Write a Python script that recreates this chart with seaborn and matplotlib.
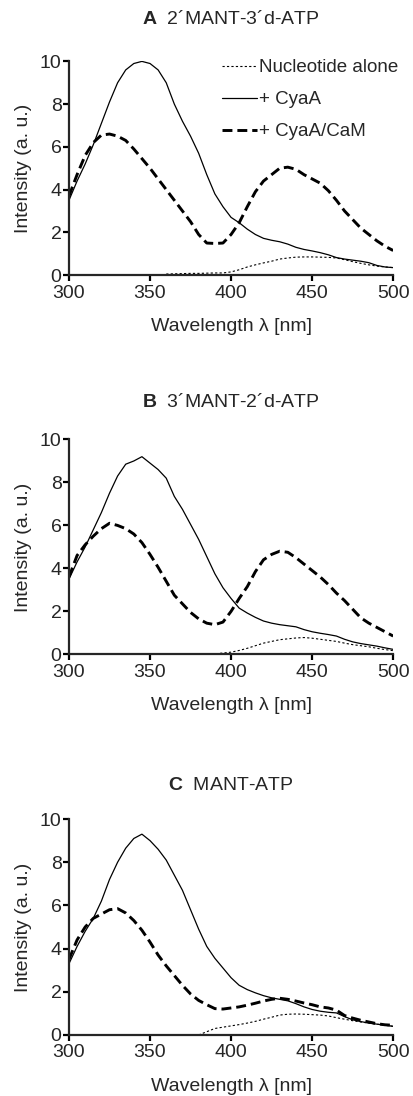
import numpy as np
import pandas as pd
import matplotlib
matplotlib.use('Agg')
import matplotlib.pyplot as plt
import seaborn as sns

# wavelength grid (nm), 5 nm steps
wavelength = np.arange(300, 501, 5)

# panel A: 2'MANT-3'd-ATP
solid_a = [3.5, 4.4, 5.2, 6.1, 7.1, 8.1, 9.0, 9.6, 9.9, 10.0, 9.9, 9.6, 9.0, 8.0, 7.2, 6.5, 5.7, 4.7, 3.8, 3.2,
           2.7, 2.45, 2.15, 1.9, 1.72, 1.63, 1.56, 1.45, 1.3, 1.2, 1.13, 1.05, 0.95, 0.82, 0.75, 0.7, 0.65, 0.58,
           0.45, 0.38, 0.35]
dash_a = [3.7, 4.7, 5.6, 6.2, 6.55, 6.6, 6.5, 6.3, 5.9, 5.45, 5.0, 4.5, 4.0, 3.5, 3.0, 2.5, 1.9, 1.5, 1.48, 1.5,
          1.9, 2.45, 3.2, 3.9, 4.4, 4.7, 5.0, 5.05, 4.95, 4.7, 4.5, 4.3, 3.95, 3.5, 3.0, 2.6, 2.2, 1.9, 1.6, 1.35,
          1.15]
dot_a = [np.nan] * 12 + [0.05, 0.06, 0.07, 0.08, 0.08, 0.09, 0.1, 0.1, 0.15, 0.25, 0.38, 0.48, 0.57, 0.65, 0.75,
                         0.8, 0.84, 0.85, 0.85, 0.84, 0.83, 0.8, 0.72, 0.63, 0.55, 0.48, 0.42, 0.38, 0.35]

# panel B: 3'MANT-2'd-ATP
solid_b = [3.5, 4.3, 5.0, 5.8, 6.6, 7.5, 8.3, 8.85, 9.0, 9.2, 8.9, 8.6, 8.2, 7.35, 6.75, 6.05, 5.35, 4.55, 3.75,
           3.1, 2.6, 2.15, 1.92, 1.72, 1.55, 1.45, 1.38, 1.33, 1.28, 1.15, 1.05, 0.98, 0.92, 0.85, 0.7, 0.58, 0.5,
           0.44, 0.38, 0.3, 0.23]
dash_b = [3.6, 4.6, 5.1, 5.5, 5.85, 6.1, 6.0, 5.85, 5.6, 5.2, 4.65, 4.05, 3.4, 2.75, 2.35, 1.95, 1.65, 1.45, 1.38,
          1.5, 2.0, 2.6, 3.15, 3.85, 4.4, 4.65, 4.8, 4.75, 4.5, 4.2, 3.9, 3.6, 3.25, 2.85, 2.5, 2.1, 1.7, 1.45,
          1.25, 1.05, 0.85]
dot_b = [np.nan] * 17 + [0.0, 0.02, 0.06, 0.1, 0.18, 0.28, 0.4, 0.52, 0.6, 0.68, 0.72, 0.76, 0.78, 0.75, 0.7,
                         0.65, 0.6, 0.52, 0.45, 0.4, 0.35, 0.28, 0.22, 0.17]

# panel C: MANT-ATP
solid_c = [3.3, 4.1, 4.8, 5.4, 6.2, 7.2, 8.0, 8.65, 9.1, 9.3, 9.0, 8.6, 8.1, 7.4, 6.7, 5.8, 4.9, 4.1, 3.55, 3.1,
           2.65, 2.3, 2.1, 1.95, 1.82, 1.72, 1.65, 1.58, 1.45, 1.3, 1.18, 1.1, 1.05, 1.02, 0.85, 0.7, 0.62, 0.55,
           0.5, 0.45, 0.4]
dash_c = [3.5, 4.4, 5.0, 5.4, 5.6, 5.8, 5.85, 5.65, 5.3, 4.85, 4.3, 3.7, 3.2, 2.75, 2.3, 1.9, 1.6, 1.4, 1.22, 1.2,
          1.25, 1.3, 1.38, 1.47, 1.57, 1.65, 1.7, 1.65, 1.57, 1.48, 1.4, 1.3, 1.25, 1.15, 0.9, 0.78, 0.68, 0.6,
          0.52, 0.47, 0.45]
dot_c = [np.nan] * 16 + [0.0, 0.15, 0.3, 0.36, 0.42, 0.48, 0.55, 0.63, 0.73, 0.82, 0.92, 0.96, 0.97, 0.96, 0.94,
                         0.92, 0.88, 0.8, 0.73, 0.66, 0.6, 0.55, 0.5, 0.45, 0.4]

series_names = ['Nucleotide alone', '+ CyaA', '+ CyaA/CaM']
panel_titles = [r'$\bf{A}$  2´MANT-3´d-ATP', r'$\bf{B}$  3´MANT-2´d-ATP', r'$\bf{C}$  MANT-ATP']
panel_data = [(dot_a, solid_a, dash_a), (dot_b, solid_b, dash_b), (dot_c, solid_c, dash_c)]

sns.set_style('ticks')
plt.rcParams['font.family'] = ['Liberation Sans', 'DejaVu Sans']
plt.rcParams['mathtext.fontset'] = 'custom'
plt.rcParams['mathtext.bf'] = 'Liberation Sans:bold'
plt.rcParams['mathtext.rm'] = 'Liberation Sans'

fig = plt.figure(figsize=(4.13, 10.96), dpi=100)

# axes boxes in figure fractions (left, bottom, width, height)
boxes = [(0.167, 0.749, 0.785, 0.195), (0.167, 0.403, 0.785, 0.196), (0.167, 0.0557, 0.785, 0.197)]
title_y = [1.20, 1.173, 1.157]

styles = [dict(linestyle=(0, (2, 2)), linewidth=0.8),
          dict(linestyle='-', linewidth=0.9),
          dict(linestyle=(0, (3.4, 1.7)), linewidth=2.1)]

for i, box in enumerate(boxes):
    ax = fig.add_axes(box)
    for name, vals, st in zip(series_names, panel_data[i], styles):
        df = pd.DataFrame({'Wavelength': wavelength, 'Intensity': vals}).dropna()
        sns.lineplot(data=df, x='Wavelength', y='Intensity', ax=ax, color='black', label=name, **st)
    ax.set_xlim(300, 500)
    ax.set_ylim(0, 10)
    ax.set_xticks([300, 350, 400, 450, 500])
    ax.set_yticks([0, 2, 4, 6, 8, 10])
    sns.despine(ax=ax)
    for s in ['left', 'bottom']:
        ax.spines[s].set_linewidth(1.6)
    ax.tick_params(axis='both', length=4.3, width=1.6, labelsize=14, color='black')
    ax.tick_params(axis='x', pad=2.5)
    ax.tick_params(axis='y', pad=1)
    ax.set_xlabel('Wavelength λ [nm]', fontsize=14)
    ax.set_ylabel('Intensity (a. u.)', fontsize=14)
    ax.xaxis.set_label_coords(0.5, -0.2)
    ax.yaxis.set_label_coords(-0.115, 0.5)
    ax.text(0.5, title_y[i], panel_titles[i], transform=ax.transAxes, ha='center', va='center', fontsize=14)
    if i == 0:
        ax.legend(loc='upper left', bbox_to_anchor=(0.472, 1.011), frameon=False, fontsize=13.5,
                  handlelength=1.87, handletextpad=0.1, labelspacing=0.8, borderpad=0, borderaxespad=0)
    else:
        ax.get_legend().remove()

fig.savefig('out.png', dpi=100)
